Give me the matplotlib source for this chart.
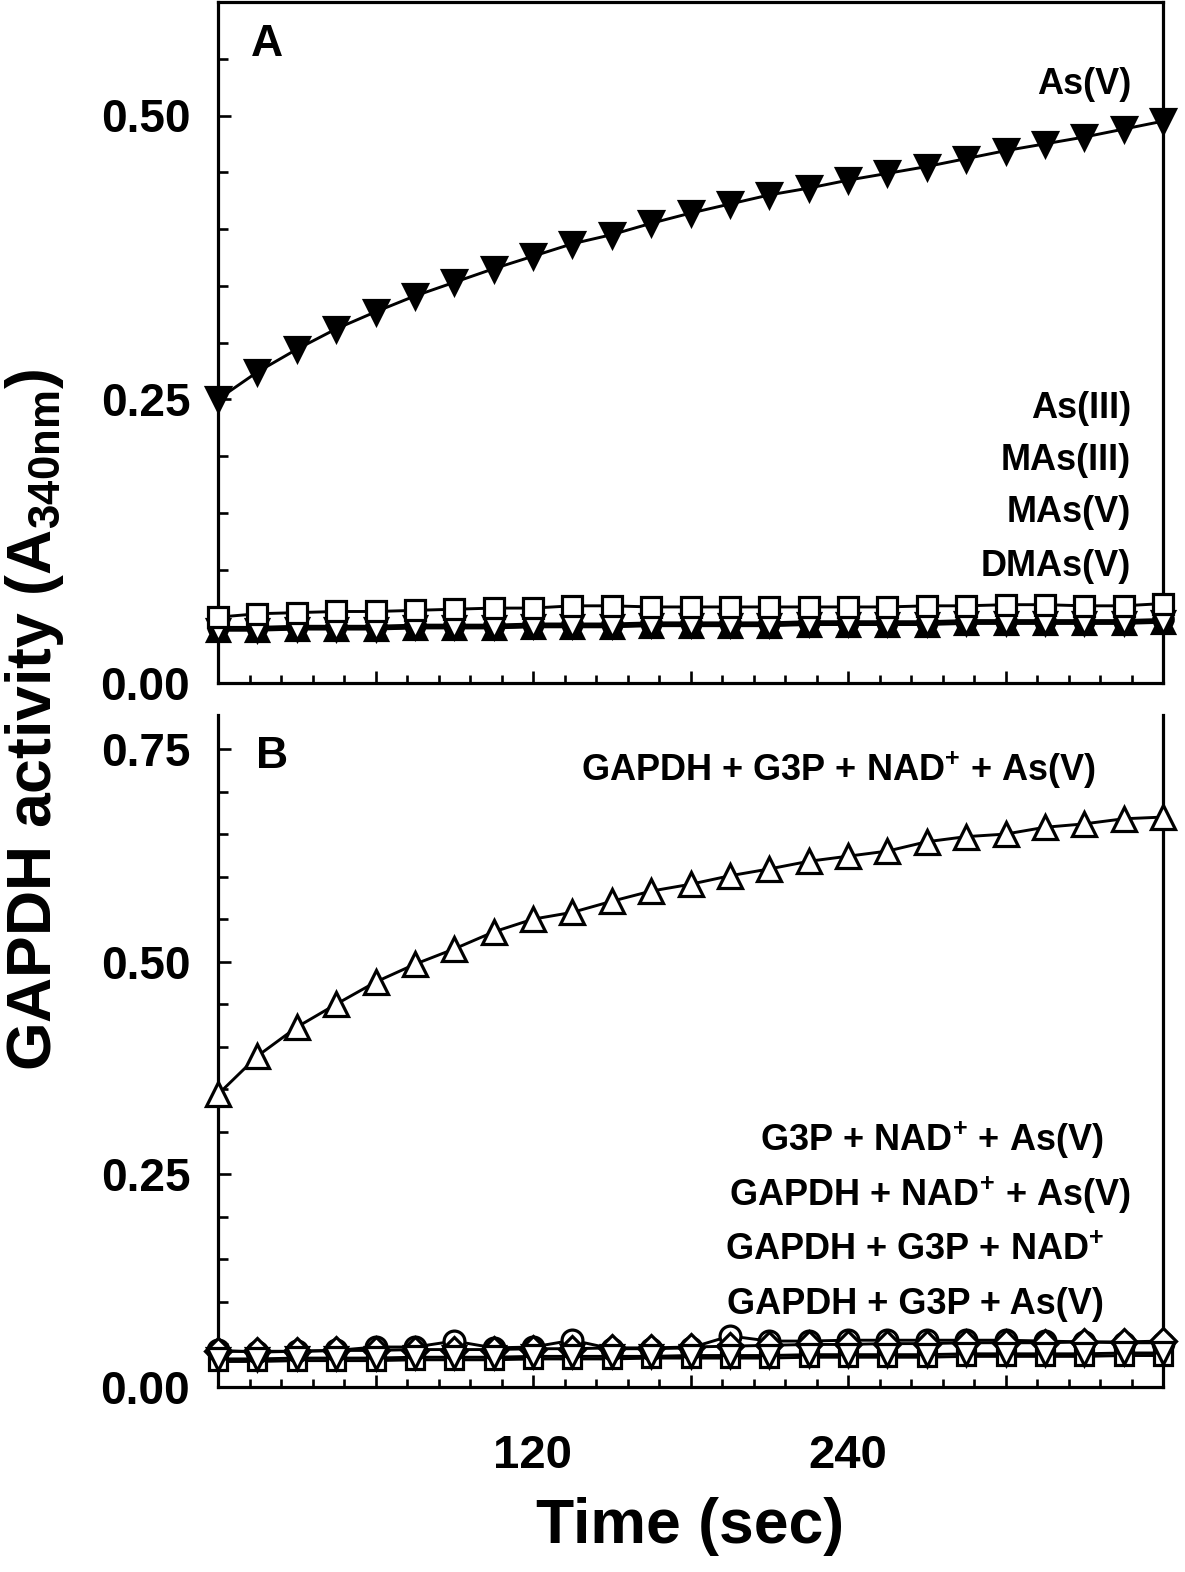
import matplotlib
matplotlib.use("Agg")
import matplotlib.pyplot as plt
from matplotlib.ticker import MultipleLocator, FuncFormatter

plt.rcParams['font.family'] = ['Liberation Sans', 'DejaVu Sans']
plt.rcParams['font.weight'] = 'bold'
plt.rcParams['mathtext.default'] = 'regular'

# ---------------- data ----------------
time_s = [0, 15, 30, 45, 60, 75, 90, 105, 120, 135, 150, 165, 180,
          195, 210, 225, 240, 255, 270, 285, 300, 315, 330, 345, 360]

# Panel A
a_asv = [0.250, 0.274, 0.294, 0.312, 0.327, 0.341, 0.353, 0.365, 0.376, 0.387,
         0.395, 0.405, 0.414, 0.422, 0.430, 0.436, 0.443, 0.449, 0.455, 0.462,
         0.469, 0.475, 0.481, 0.488, 0.495]
a_asiii = [0.049, 0.049, 0.050, 0.050, 0.050, 0.051, 0.051, 0.051, 0.052, 0.052,
           0.052, 0.053, 0.053, 0.053, 0.053, 0.054, 0.054, 0.054, 0.054, 0.055,
           0.055, 0.055, 0.055, 0.055, 0.056]
a_masiii = [0.0465, 0.0465, 0.0475, 0.0475, 0.0475, 0.0485, 0.0485, 0.0485, 0.0495, 0.0495,
            0.0495, 0.0505, 0.0505, 0.0505, 0.0505, 0.0515, 0.0515, 0.0515, 0.0515, 0.0525,
            0.0525, 0.0525, 0.0525, 0.0525, 0.0535]
a_masv = [0.047, 0.047, 0.048, 0.048, 0.048, 0.049, 0.049, 0.049, 0.050, 0.050,
          0.050, 0.051, 0.051, 0.051, 0.051, 0.052, 0.052, 0.052, 0.052, 0.053,
          0.053, 0.053, 0.053, 0.053, 0.054]
a_dmasv = [0.058, 0.061, 0.062, 0.063, 0.063, 0.064, 0.065, 0.066, 0.066, 0.068,
           0.068, 0.067, 0.067, 0.067, 0.067, 0.067, 0.067, 0.067, 0.068, 0.068,
           0.069, 0.069, 0.068, 0.068, 0.070]

# Panel B
b_full = [0.344, 0.389, 0.423, 0.450, 0.476, 0.497, 0.515, 0.535, 0.550, 0.558,
          0.571, 0.583, 0.591, 0.601, 0.609, 0.618, 0.624, 0.630, 0.641, 0.647,
          0.650, 0.658, 0.662, 0.668, 0.670]
b_no_gapdh = [0.043, 0.041, 0.042, 0.043, 0.047, 0.047, 0.054, 0.046, 0.047, 0.055,
              0.045, 0.045, 0.046, 0.060, 0.054, 0.054, 0.055, 0.055, 0.055, 0.055,
              0.055, 0.054, 0.053, 0.052, 0.052]
b_no_g3p = [0.042, 0.042, 0.042, 0.043, 0.043, 0.044, 0.044, 0.044, 0.045, 0.045,
            0.046, 0.046, 0.047, 0.048, 0.049, 0.050, 0.050, 0.051, 0.051, 0.052,
            0.052, 0.052, 0.053, 0.053, 0.054]
b_no_asv = [0.033, 0.033, 0.034, 0.034, 0.034, 0.035, 0.035, 0.035, 0.036, 0.036,
            0.036, 0.036, 0.037, 0.037, 0.037, 0.038, 0.038, 0.038, 0.038, 0.039,
            0.039, 0.039, 0.039, 0.040, 0.040]
b_no_nad = [0.030, 0.030, 0.031, 0.031, 0.031, 0.032, 0.032, 0.032, 0.033, 0.033,
            0.033, 0.034, 0.034, 0.034, 0.034, 0.035, 0.035, 0.035, 0.035, 0.036,
            0.036, 0.036, 0.036, 0.037, 0.037]

x_labels_shown = [120, 240]

# ---------------- figure ----------------
W, H = 1185, 1572
fig = plt.figure(figsize=(W / 100, H / 100), dpi=100)

L, R = 218, 1163
axA = fig.add_axes([L / W, 1 - 683 / H, (R - L) / W, (683 - 2) / H])
axB = fig.add_axes([L / W, 1 - 1387 / H, (R - L) / W, (1387 - 715) / H])

lw = 2.1
mew = 2.3
common = dict(color='black', lw=lw, clip_on=False, mew=mew, mec='black')

# Panel A
axA.plot(time_s, a_asiii, marker='o', ms=14, mfc='black', zorder=3, **common)
axA.plot(time_s, a_masiii, marker='^', ms=16, mfc='black', zorder=4, **common)
axA.plot(time_s, a_masv, marker='v', ms=16, mfc='white', zorder=5, **common)
axA.plot(time_s, a_dmasv, marker='s', ms=14, mfc='white', zorder=6, **common)
axA.plot(time_s, a_asv, marker='v', ms=17, mfc='black', zorder=7, **common)

# Panel B
axB.plot(time_s, b_no_nad, marker='s', ms=13, mfc='white', zorder=3, **common)
axB.plot(time_s, b_no_gapdh, marker='o', ms=15, mfc='white', zorder=4, **common)
axB.plot(time_s, b_no_g3p, marker='D', ms=13, mfc='white', zorder=5, **common)
axB.plot(time_s, b_no_asv, marker='v', ms=16, mfc='white', zorder=6, **common)
axB.plot(time_s, b_full, marker='^', ms=17, mfc='white', zorder=7, **common)

for ax in (axA, axB):
    ax.set_xlim(0, 360)
    ax.xaxis.set_major_locator(MultipleLocator(60))
    ax.xaxis.set_minor_locator(MultipleLocator(12))
    ax.yaxis.set_major_locator(MultipleLocator(0.25))
    ax.yaxis.set_minor_locator(MultipleLocator(0.05))
    ax.yaxis.set_major_formatter(FuncFormatter(lambda v, p: f"{v:.2f}"))
    for s in ax.spines.values():
        s.set_linewidth(2.3)
    ax.tick_params(axis='both', which='both', direction='in', top=False, right=False,
                   width=1.9)
    ax.tick_params(axis='x', which='major', length=9)
    ax.tick_params(axis='x', which='minor', length=6)
    ax.tick_params(axis='y', which='major', length=9)
    ax.tick_params(axis='y', which='minor', length=7)
    ax.tick_params(axis='y', labelsize=33, pad=20)
    for t in ax.get_yticklabels():
        t.set_fontweight('bold')

axA.set_ylim(0, 0.6)
axB.set_ylim(0, 0.79)
axB.spines['top'].set_visible(False)

axA.tick_params(axis='x', labelbottom=False)
axB.xaxis.set_major_formatter(FuncFormatter(
    lambda v, p: f"{int(round(v))}" if int(round(v)) in x_labels_shown else ""))
axB.tick_params(axis='x', labelsize=34, pad=34)
for t in axB.get_xticklabels():
    t.set_fontweight('bold')


def ftext(x, y, s, size=26, ha='right', **kw):
    fig.text(x / W, 1 - y / H, s, ha=ha, va='center', fontsize=size,
             fontweight='bold', **kw)


# Panel labels
ftext(267, 45, 'A', size=32, ha='center')
ftext(272, 757, 'B', size=32, ha='center')

# Panel A annotations
ftext(1131, 85, 'As(V)')
ftext(1131, 408, 'As(III)')
ftext(1131, 461, 'MAs(III)')
ftext(1131, 513, 'MAs(V)')
ftext(1131, 566, 'DMAs(V)')

# Panel B annotations
ftext(1096, 770, 'GAPDH + G3P + NAD$^{+}$ + As(V)')
ftext(1104, 1140, 'G3P + NAD$^{+}$ + As(V)')
ftext(1131, 1195, 'GAPDH + NAD$^{+}$ + As(V)')
ftext(1104, 1250, 'GAPDH + G3P + NAD$^{+}$')
ftext(1104, 1305, 'GAPDH + G3P + As(V)')

# Axis titles
fig.text(35 / W, 1 - 720 / H, 'GAPDH activity (A$_{340nm}$)', rotation=90,
         ha='center', va='center', fontsize=45, fontweight='bold')
fig.text(690 / W, 1 - 1527 / H, 'Time (sec)', ha='center', va='center',
         fontsize=45, fontweight='bold')

fig.savefig('out.png', dpi=100)
